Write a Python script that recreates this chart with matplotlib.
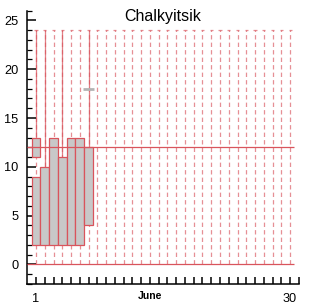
import numpy as np
import matplotlib
matplotlib.use('Agg')
import matplotlib.pyplot as plt

############################# Data ############################################

days = np.arange(1, 31)
whisk_low = [0] * 30
whisk_high = [24] * 30

box_days = [1, 2, 3, 4, 5, 6, 7]
box_low = [2, 2, 2, 2, 2, 2, 4]
box_high = [9, 10, 13, 11, 13, 13, 12]

# second box on day 1
extra_days = [1]
extra_low = [11]
extra_high = [13]

# solid upper whiskers
solid_days = [1, 2, 4, 7]
solid_low = [13, 10, 11, 12]

ref_line = 12
mark_day = [7]
mark_val = [18]

station = "Chalkyitsik"
month = "June"

############################# Plot ############################################

plt.rcParams['font.family'] = ['Liberation Sans', 'DejaVu Sans']

red = '#d9545c'

fig = plt.figure(figsize=(3.21, 3.04), dpi=100)
ax = fig.add_axes([0.085, 0.066, 0.846, 0.899])

# dashed whiskers for every day
ax.vlines(days, whisk_low, whisk_high, colors=red, linewidth=0.9,
          linestyles=(0, (3.5, 2.5)), alpha=0.65, zorder=1)
# caps
ax.hlines(whisk_high, days - 0.18, days + 0.18, colors=red, linewidth=0.9,
          alpha=0.65, zorder=1)
# solid upper parts
ax.vlines(solid_days, solid_low, [24] * len(solid_days), colors=red,
          linewidth=0.9, alpha=0.75, zorder=1)

# boxes
ax.bar(box_days, np.array(box_high) - np.array(box_low), bottom=box_low,
       width=1.0, color='#c8c8c8', edgecolor=red, linewidth=0.9, zorder=2)
ax.bar(extra_days, np.array(extra_high) - np.array(extra_low),
       bottom=extra_low, width=1.0, color='#c8c8c8', edgecolor=red,
       linewidth=0.9, zorder=2)

# horizontal reference lines
ax.hlines([0, ref_line], 0, 30.5, colors=red, linewidth=0.9, zorder=3)

# grey marker
ax.hlines(mark_val, np.array(mark_day) - 0.6, np.array(mark_day) + 0.6,
          colors='#b4b4b4', linewidth=2, zorder=3)

ax.set_xlim(0, 31)
ax.set_ylim(-2, 26)

for s in ['top', 'right']:
    ax.spines[s].set_visible(False)
for s in ['left', 'bottom']:
    ax.spines[s].set_linewidth(1.1)

ax.set_yticks([0, 5, 10, 15, 20, 25])
ax.set_yticks(np.arange(-2, 27), minor=True)
ax.tick_params(axis='y', which='major', direction='in', length=6.5,
               width=1.1, pad=6.5, labelsize=9.2)
ax.tick_params(axis='y', which='minor', direction='in', length=3.3,
               width=0.9)

xt = np.arange(1, 32)
xl = [''] * len(xt)
xl[0] = '1'
xl[29] = '30'
ax.set_xticks(xt)
ax.set_xticklabels(xl)
ax.tick_params(axis='x', direction='in', length=5, width=1.1, pad=6.5,
               labelsize=9.2)

fig.text(150 / 321, 1 - 296 / 304, month, ha='center', va='center',
         fontsize=7.5, fontweight='bold')
fig.text(163 / 321, 1 - 17 / 304, station, ha='center', va='center',
         fontsize=11.5)

fig.savefig('out.png', dpi=100)
